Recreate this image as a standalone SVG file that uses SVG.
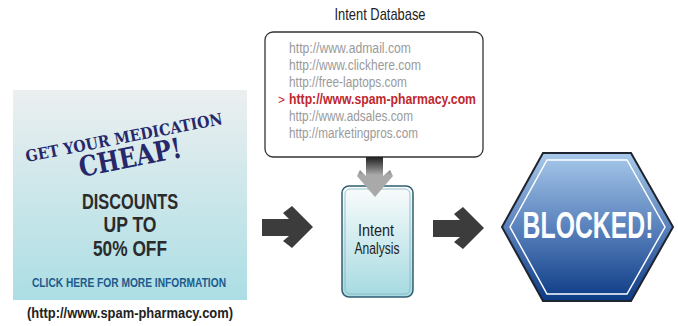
<svg xmlns="http://www.w3.org/2000/svg" width="678" height="326" viewBox="0 0 678 326">
<defs>
<linearGradient id="adG" x1="0" y1="0" x2="0" y2="1">
<stop offset="0" stop-color="#eceff0"/><stop offset="1" stop-color="#abdee4"/>
</linearGradient>
<linearGradient id="iaG" x1="0" y1="0" x2="0" y2="1">
<stop offset="0" stop-color="#fafcfc"/><stop offset="1" stop-color="#a6dae1"/>
</linearGradient>
<linearGradient id="hexG" x1="0" y1="0" x2="0" y2="1">
<stop offset="0" stop-color="#a7c9ea"/><stop offset="0.5" stop-color="#5a82bd"/><stop offset="1" stop-color="#0c3a84"/>
</linearGradient>
<linearGradient id="grayG" x1="0" y1="0" x2="0" y2="1">
<stop offset="0" stop-color="#1e1e1e"/><stop offset="0.45" stop-color="#a9a9a9"/><stop offset="1" stop-color="#a9a9a9"/>
</linearGradient>
<style>
.cond{font-family:"Liberation Sans",Arial,sans-serif;}
.url{font-family:"Liberation Sans",Arial,sans-serif;font-size:14px;fill:#9a9a9a;}
.ad{font-family:"DejaVu Serif",serif;font-weight:bold;fill:#26286a;}
.big{font-family:"Liberation Sans",Arial,sans-serif;font-size:22px;font-weight:bold;fill:#2b2b2b;}
.arrow{fill:#3c3c3c;}
</style>
</defs>

<g id="ad">
<rect x="13" y="90" width="234" height="210" fill="url(#adG)"/>
<text class="ad" x="125" y="143" font-size="16" text-anchor="middle" textLength="200" lengthAdjust="spacingAndGlyphs" transform="rotate(-11 125 143)">GET YOUR MEDICATION</text>
<text class="ad" x="132" y="167" font-size="28" text-anchor="middle" textLength="104" lengthAdjust="spacingAndGlyphs" transform="rotate(-11 132 167)">CHEAP!</text>
<text class="big" x="130" y="209" text-anchor="middle" textLength="96" lengthAdjust="spacingAndGlyphs">DISCOUNTS</text>
<text class="big" x="130" y="232" text-anchor="middle" textLength="53" lengthAdjust="spacingAndGlyphs">UP TO</text>
<text class="big" x="130" y="256" text-anchor="middle" textLength="74" lengthAdjust="spacingAndGlyphs">50% OFF</text>
<text class="cond" x="129" y="287" font-size="13" font-weight="bold" fill="#1d5a8c" text-anchor="middle" textLength="194" lengthAdjust="spacingAndGlyphs">CLICK HERE FOR MORE INFORMATION</text>
<text class="cond" x="130" y="318" font-size="15" font-weight="bold" fill="#222" text-anchor="middle" textLength="206" lengthAdjust="spacingAndGlyphs">(http://www.spam-pharmacy.com)</text>
</g>

<g id="intent-database">
<text class="cond" x="380" y="20" font-size="17" fill="#222" text-anchor="middle" textLength="91" lengthAdjust="spacingAndGlyphs">Intent Database</text>
<rect x="265" y="32" width="218" height="125" rx="8" fill="#fff" stroke="#333" stroke-width="1.3"/>
<text class="url" x="289" y="53" textLength="122" lengthAdjust="spacingAndGlyphs">http://www.admail.com</text>
<text class="url" x="289" y="70" textLength="132" lengthAdjust="spacingAndGlyphs">http://www.clickhere.com</text>
<text class="url" x="289" y="87" textLength="118" lengthAdjust="spacingAndGlyphs">http://free-laptops.com</text>
<text class="cond" x="278" y="104" font-size="12" fill="#c1272d">&gt;</text>
<text class="cond" x="289" y="104" font-size="14" font-weight="bold" fill="#c1272d" textLength="187" lengthAdjust="spacingAndGlyphs">http://www.spam-pharmacy.com</text>
<text class="url" x="289" y="121" textLength="124" lengthAdjust="spacingAndGlyphs">http://www.adsales.com</text>
<text class="url" x="289" y="138" textLength="129" lengthAdjust="spacingAndGlyphs">http://marketingpros.com</text>
</g>

<g id="intent-analysis">
<rect x="342" y="186" width="71" height="111" rx="7" fill="url(#iaG)" stroke="#2f5f72" stroke-width="1.5"/>
<rect x="345" y="189" width="65" height="105" rx="5" fill="none" stroke="#84b4bf" stroke-width="0.8"/>
<text class="cond" x="376" y="236" font-size="16" fill="#222" text-anchor="middle" textLength="36" lengthAdjust="spacingAndGlyphs">Intent</text>
<text class="cond" x="377" y="254" font-size="16" fill="#222" text-anchor="middle" textLength="45" lengthAdjust="spacingAndGlyphs">Analysis</text>
</g>

<g id="blocked">
<polygon points="502,227 543,153 631,153 673,227 631,301 543,301" fill="url(#hexG)" stroke="#1f2530" stroke-width="2"/>
<polygon points="510,227 547,160 627,160 665,227 627,294 547,294" fill="none" stroke="#fff" stroke-width="1.5"/>
<text class="cond" transform="translate(588 238) scale(0.67 1)" x="0" y="0" font-size="37" font-weight="bold" fill="#fff" text-anchor="middle">BLOCKED!</text>
</g>

<g id="connectors">
<polygon class="arrow" points="262,219 289,219 283,213 292,206 313,227 292,248 283,241 289,236 262,236"/>
<polygon class="arrow" points="433,220 460,220 454,214 463,207 484,228 463,249 454,242 460,237 433,237"/>
<polygon fill="url(#grayG)" points="366,157 383,157 383,176 390,170 393,176 375,197 357,176 360,170 366,176"/>
</g>
</svg>
